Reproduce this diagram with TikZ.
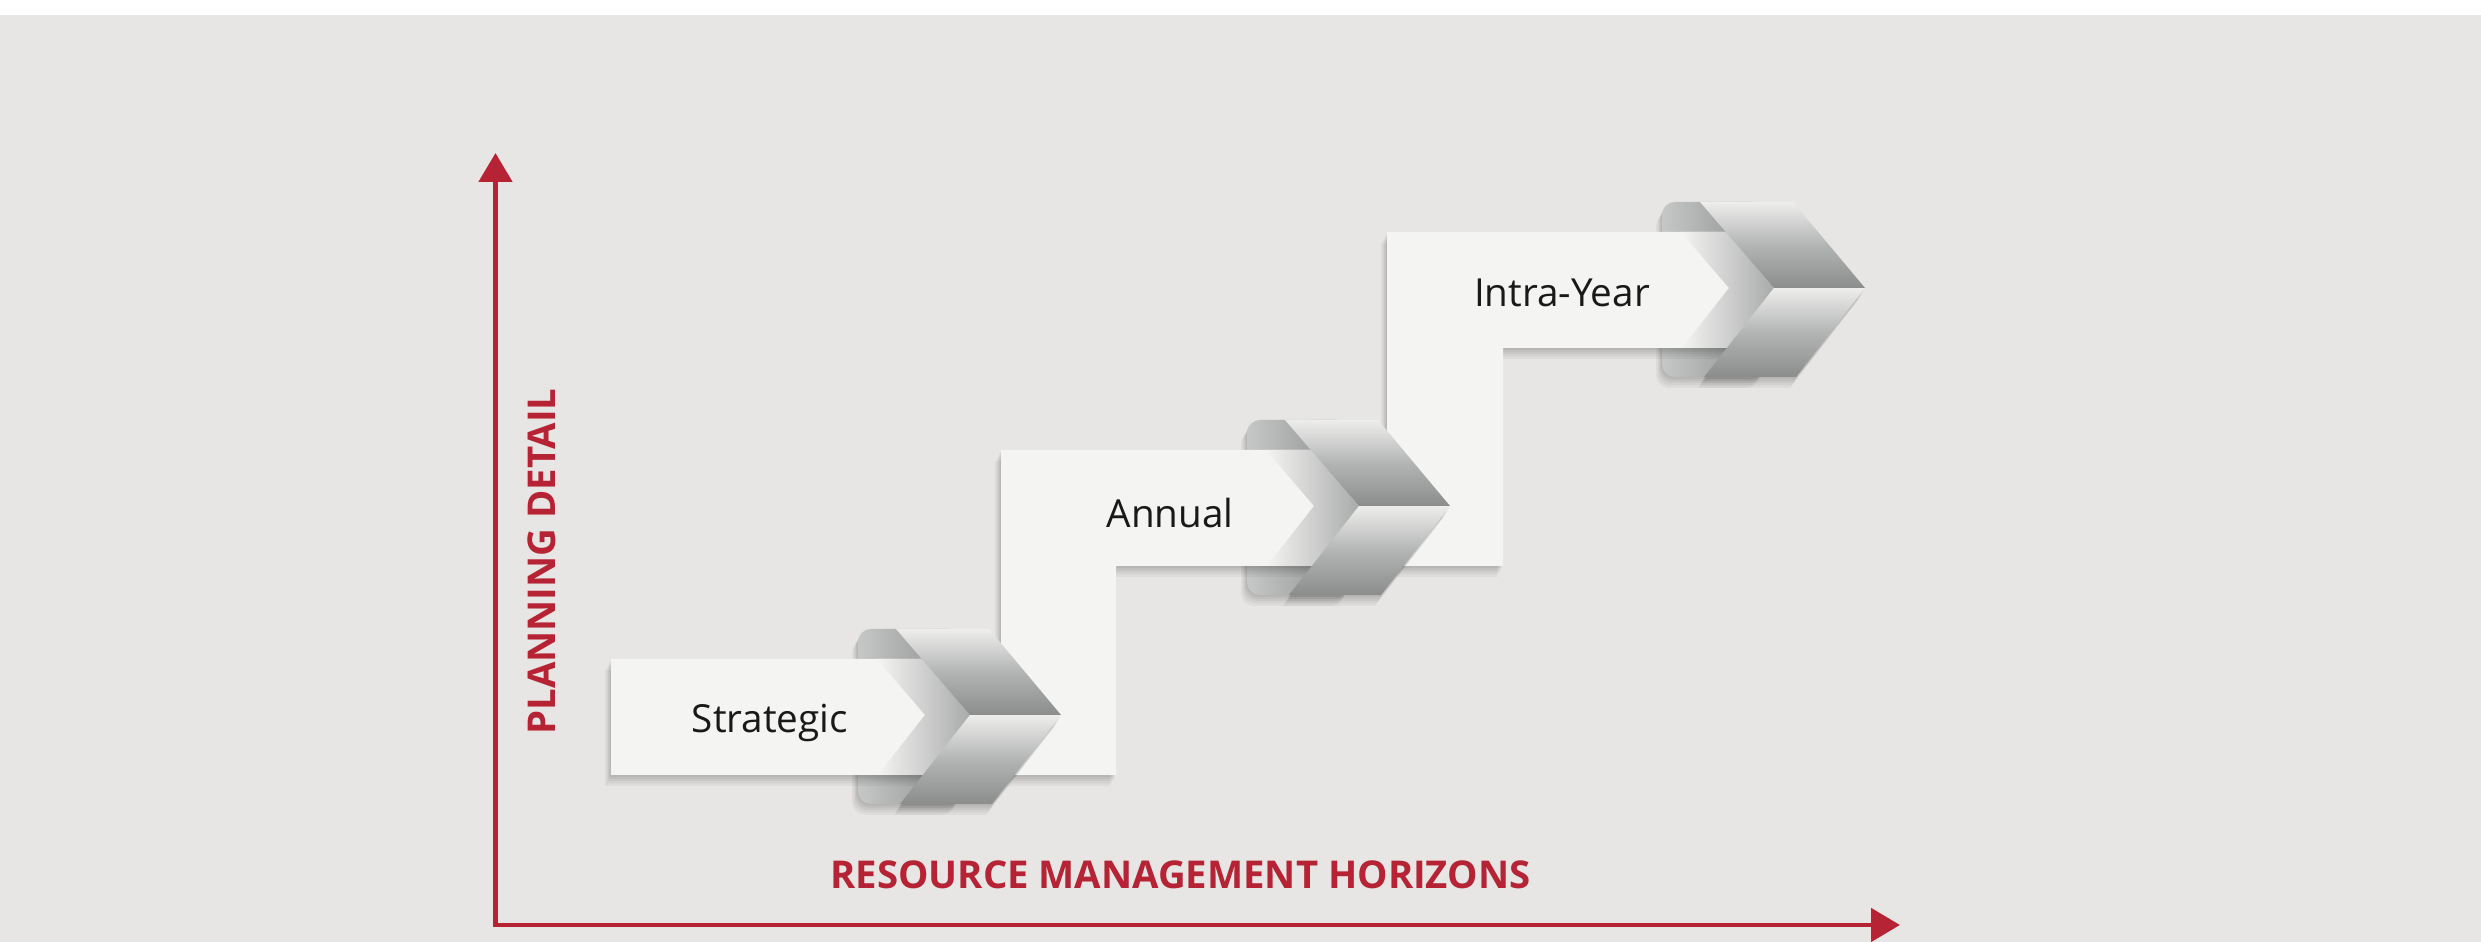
\documentclass[tikz,border=0pt]{standalone}
\usepackage{fontspec}
\setmainfont{Open Sans}
\usetikzlibrary{arrows.meta,positioning,shadows}
\definecolor{axisred}{HTML}{B52334}
\definecolor{canvasgray}{HTML}{E7E6E4}
\definecolor{panelwhite}{HTML}{F4F4F2}
\definecolor{foldlight}{HTML}{EDEDEB}
\definecolor{foldmid}{HTML}{B3B5B5}
\definecolor{folddark}{HTML}{8B8D8D}
\definecolor{foldedge}{HTML}{C6C7C7}
\tikzset{
    %Define standard arrow tip
    >={Triangle[width=3.3mm,length=2.9mm]},
    %Define soft shadow
    softshadow/.style={
             general shadow={fill=black, opacity=0.045, shadow xshift=-0.01cm, shadow yshift=-0.02cm},
             general shadow={fill=black, opacity=0.045, shadow xshift=-0.02cm, shadow yshift=-0.04cm},
             general shadow={fill=black, opacity=0.045, shadow xshift=-0.03cm, shadow yshift=-0.06cm},
             general shadow={fill=black, opacity=0.045, shadow xshift=-0.045cm, shadow yshift=-0.085cm},
             general shadow={fill=black, opacity=0.045, shadow xshift=-0.06cm, shadow yshift=-0.11cm}},
    %Define style for panels
    panel/.style={
             softshadow,
             fill=panelwhite},
    foldback/.style={
             softshadow,
             rounded corners=1.3mm,
             left color=foldedge, right color=folddark},
    foldglow/.style={
             left color=panelwhite, right color=foldmid!75!folddark},
    foldupper/.style={
             top color=foldlight, bottom color=folddark, middle color=foldmid},
    foldlower/.style={
             softshadow,
             top color=foldlight, bottom color=folddark, middle color=foldmid},
    steplabel/.style={
             text=black!90,
             font=\fontsize{11}{13}\selectfont},
    axislabel/.style={
             inner sep=0pt,
             text=axisred,
             font=\bfseries\fontsize{10.9}{13}\selectfont},
    % Define arrow style
    axisarrow/.style={
            <->,
            axisred,
            line width=1.4pt,
            line join=miter}
}
% back of a fold: #1 tip x, #2 panel bottom y
\newcommand{\foldback}[2]{%
  \shade[foldback] (#1-2.03,#2-0.29) rectangle (#1-1.0,#2+1.46);}
% front of a fold: #1 tip x, #2 panel bottom y
\newcommand{\foldfront}[2]{%
  \shade[foldglow] (#1-1.84,#2+1.16) -- (#1-1.39,#2+1.16) -- (#1-0.91,#2+0.60)
     -- (#1-1.38,#2) -- (#1-1.83,#2) -- (#1-1.36,#2+0.60) -- cycle;
  \shade[foldlower] (#1-0.91,#2+0.60) -- (#1,#2+0.60) -- (#1-0.69,#2-0.29) -- (#1-1.61,#2-0.29) -- cycle;
  \shade[foldupper] (#1-1.65,#2+1.46) -- (#1-0.72,#2+1.46) -- (#1,#2+0.60) -- (#1-0.91,#2+0.60) -- cycle;}
\begin{document}
\begin{tikzpicture}
 \useasboundingbox (0,0) rectangle (24.81,9.42);
 \fill[white] (0,0) rectangle (24.81,9.42);
 \fill[canvasgray] (0,0) rectangle (24.81,9.27);
 % Intra-Year
 \foldback{18.65}{5.94}
 \fill[panel] (13.87,3.76) -- (13.87,7.10) -- (17.26,7.10) -- (17.74,6.54) -- (17.27,5.94)
     -- (15.03,5.94) -- (15.03,3.76) -- cycle;
 \foldfront{18.65}{5.94}
 % Annual
 \foldback{14.50}{3.76}
 \fill[panel] (10.01,1.67) -- (10.01,4.92) -- (13.11,4.92) -- (13.59,4.36) -- (13.12,3.76)
     -- (11.16,3.76) -- (11.16,1.67) -- cycle;
 \foldfront{14.50}{3.76}
 % Strategic
 \foldback{10.61}{1.67}
 \fill[panel] (6.11,1.67) -- (6.11,2.83) -- (9.22,2.83) -- (9.70,2.27) -- (9.23,1.67) -- cycle;
 \foldfront{10.61}{1.67}
 \node[steplabel] (strategic) at (7.70,2.19) {Strategic};
 \node[steplabel] (annual) at (11.70,4.29) {Annual};
 \node[steplabel] (intra) at (15.62,6.49) {Intra-Year};
 % axes
 \coordinate (origin) at (4.955,0.17);
 \coordinate (ytop) at (4.955,7.89);
 \coordinate (xend) at (19.00,0.17);
 \draw[axisarrow] (ytop) -- (origin) -- (xend);
 \node[axislabel, rotate=90] (detail) at (5.415,3.805) {PLANNING DETAIL};
 \node[axislabel] (horizons) at (11.805,0.67) {RESOURCE MANAGEMENT HORIZONS};
\end{tikzpicture}
\end{document}
